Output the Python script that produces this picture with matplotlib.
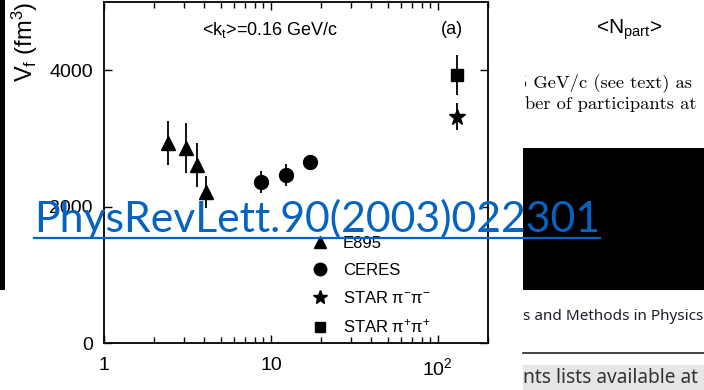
import matplotlib
matplotlib.use("Agg")
import matplotlib.pyplot as plt
from matplotlib.patches import Rectangle
from matplotlib.lines import Line2D
from matplotlib.ticker import LogLocator, NullLocator, FixedLocator
from matplotlib.transforms import Bbox, TransformedBbox

plt.rcParams['font.family'] = ['Liberation Sans', 'DejaVu Sans']
plt.rcParams['mathtext.fontset'] = 'custom'
plt.rcParams['mathtext.rm'] = 'Liberation Sans'
plt.rcParams['mathtext.it'] = 'Liberation Sans:italic'
plt.rcParams['mathtext.default'] = 'regular'

# data (x = sqrt(s_NN) in GeV, y = V_f in fm^3)
e895_x = [2.43, 3.09, 3.6, 4.09]
e895_y = [2930, 2860, 2610, 2220]
e895_err = [320, 360, 320, 235]

ceres_x = [8.75, 12.4, 17.2]
ceres_y = [2360, 2460, 2660]
ceres_err = [165, 160, 60]

star_mm_x = [131]
star_mm_y = [3320]
star_mm_err = [200]

star_pp_x = [131]
star_pp_y = [3930]
star_pp_err = [290]

labels = ['E895', 'CERES', r'STAR $\pi^{-}\pi^{-}$', r'STAR $\pi^{+}\pi^{+}$']
xticks = [1, 10, 100]
xtick_labels = ['1', '10', r'$10^{2}$']
yticks = [0, 2000, 4000]

W, H = 704, 390


def fx(x):
    return x / W


def fy(y):
    return 1 - y / H


fig = plt.figure(figsize=(7.04, 3.90), dpi=100)
fig.patch.set_facecolor('white')

ax = fig.add_axes([fx(104), fy(343), (488 - 104) / W, (343 - 2) / H])

kw = dict(color='black', ecolor='black', elinewidth=1.3, capsize=0, linestyle='none')
h1 = ax.errorbar(e895_x, e895_y, yerr=e895_err, marker='^', markersize=10, **kw)
h2 = ax.errorbar(ceres_x, ceres_y, yerr=ceres_err, marker='o', markersize=10, **kw)
h3 = ax.errorbar(star_mm_x, star_mm_y, yerr=star_mm_err, marker='*', markersize=12, **kw)
h4 = ax.errorbar(star_pp_x, star_pp_y, yerr=star_pp_err, marker='s', markersize=8.5, **kw)

ax.set_xscale('log')
ax.set_xlim(1, 200)
ax.set_ylim(0, 5000)
ax.xaxis.set_major_locator(FixedLocator(xticks))
ax.set_xticklabels(xtick_labels)
ax.xaxis.set_minor_locator(LogLocator(base=10, subs=range(2, 10)))
ax.set_yticks(yticks)
ax.yaxis.set_minor_locator(NullLocator())
ax.tick_params(which='both', direction='in', top=True, right=True, width=1, labelsize=14)
ax.tick_params(which='major', length=6)
ax.tick_params(which='minor', length=4)
ax.tick_params(axis='x', pad=10)
ax.tick_params(axis='y', pad=8)
for s in ax.spines.values():
    s.set_linewidth(1.3)

ax.set_ylabel(r'V$_{f}$ (fm$^{3}$)', fontsize=17)
ax.yaxis.set_label_coords(-0.167, 0.883)

ax.text(0.255, 0.918, r'<k$_{t}$>=0.16 GeV/c', transform=ax.transAxes, fontsize=13, va='center')
ax.text(0.906, 0.918, '(a)', transform=ax.transAxes, fontsize=13, va='center', ha='center')

ax.legend([h1[0], h2[0], h3[0], h4[0]], labels, loc='upper left',
          bbox_to_anchor=(0.542, 0.315), frameon=False, fontsize=12,
          borderpad=0, borderaxespad=0, handlelength=0.95, handletextpad=0.9,
          labelspacing=0.72, markerscale=0.9)


def clipped(t, x0, x1, y0, y1):
    bb = TransformedBbox(Bbox([[fx(x0), fy(y1)], [fx(x1), fy(y0)]]), fig.transFigure)
    t.set_clip_box(bb)
    t.set_clip_on(True)


# pasted fragments around the chart
fig.add_artist(Rectangle((0, fy(290)), fx(5), 290 / H, transform=fig.transFigure,
                         facecolor='black', edgecolor='none', zorder=5))
fig.add_artist(Rectangle((fx(523), fy(290)), fx(704 - 523), (290 - 148) / H,
                         transform=fig.transFigure, facecolor='black', edgecolor='none', zorder=5))

fig.text(fx(596), fy(30), r'<N$_{part}$>', fontsize=15, va='center', ha='left')

t = fig.text(fx(518), fy(83), '5 GeV/c (see text) as', family='cmr10', fontsize=13.3,
             va='center', ha='left')
clipped(t, 525, 704, 60, 100)
fig.text(fx(525), fy(104), 'ber of participants at', family='cmr10', fontsize=13.3,
         va='center', ha='left')

fig.text(fx(523), fy(317), 's and Methods in Physics', family='Noto Sans', fontsize=11,
         color='#1e1e2a', va='center', ha='left')
fig.add_artist(Line2D([fx(523), 1], [fy(353), fy(353)], transform=fig.transFigure,
                      color='#222222', linewidth=1.2))
fig.add_artist(Rectangle((fx(523), 0), fx(704 - 523), fy(365), transform=fig.transFigure,
                         facecolor='#e6e6e6', edgecolor='none', zorder=1))
fig.text(fx(523), fy(378), 'nts lists available at', family='Noto Sans', fontsize=13.8,
         fontweight='semibold', color='#333333', va='center', ha='left', zorder=6)

link = fig.text(fx(34), fy(232), 'PhysRevLett.90(2003)022301', family='Lato', fontsize=30,
                color='#0563C1', va='baseline', ha='left', zorder=10)
fig.canvas.draw()
w = link.get_window_extent().width
link.set_fontsize(30 * (600 - 34) / w)
fig.add_artist(Line2D([fx(34), fx(600)], [fy(238), fy(238)], transform=fig.transFigure,
                      color='#0563C1', linewidth=1.6, zorder=10))

fig.savefig('out.png', dpi=100)
